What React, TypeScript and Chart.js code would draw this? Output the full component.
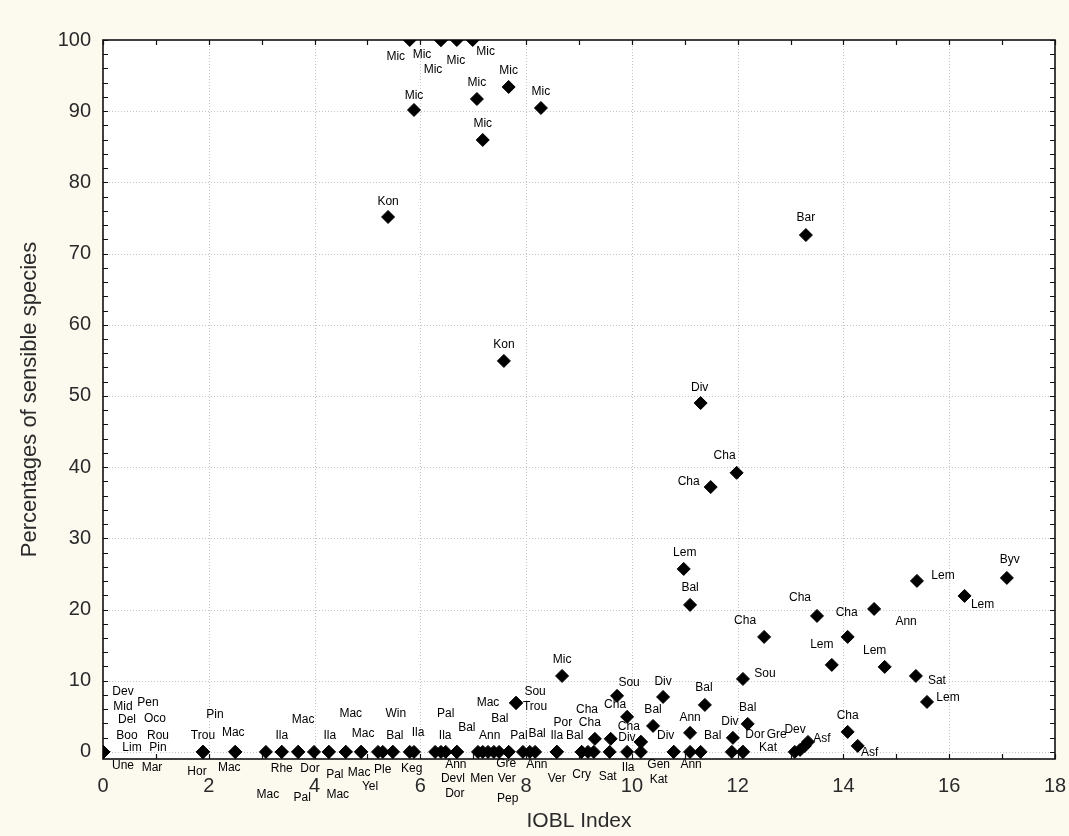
import React, { useEffect, useRef } from 'react';
import { Chart, registerables } from 'chart.js';

Chart.register(...registerables);

// ---- data ----
const speciesLabels: string[] = [
  'Dev', 'Mid', 'Del', 'Boo', 'Lim', 'Une', 'Pen', 'Oco', 'Rou', 'Pin', 'Mar',
  'Trou', 'Pin', 'Hor', 'Mac', 'Mac', 'Mac', 'Ila', 'Rhe', 'Mac', 'Pal', 'Dor',
  'Ila', 'Pal', 'Mac', 'Mac', 'Mac', 'Mac', 'Yel', 'Ple', 'Bal', 'Win', 'Keg', 'Ila',
  'Ila', 'Devl', 'Pal', 'Ann', 'Dor', 'Bal', 'Men', 'Ann', 'Mac', 'Bal', 'Gre', 'Ver', 'Pep',
  'Sou', 'Trou', 'Pal', 'Ann', 'Bal', 'Ila', 'Por', 'Ver', 'Mic', 'Bal', 'Cry', 'Cha', '',
  'Cha', 'Sat', '', 'Sou', 'Cha', 'Ila', 'Cha', 'Div', '', 'Bal', 'Div', 'Div', 'Gen', 'Kat',
  'Ann', 'Ann', 'Bal', 'Bal', '', 'Div', 'Dor', 'Kat', 'Bal', 'Gre', 'Dev', '', 'Asf',
  'Cha', 'Asf', 'Sou', 'Sat', 'Lem', 'Lem', 'Bal', 'Div', 'Cha', 'Cha', 'Cha', 'Cha', 'Cha',
  'Ann', 'Lem', 'Lem', 'Lem', 'Lem', 'Byv', 'Bar', 'Kon', 'Kon',
  'Mic', 'Mic', 'Mic', 'Mic', 'Mic', 'Mic', 'Mic', 'Mic', 'Mic', 'Mic',
];

const ioblIndex: number[] = [
  0, 0, 0, 0, 0, 0, 0, 0, 0, 0, 0,
  1.89, 1.89, 1.89, 2.5, 2.5, 3.08, 3.38, 3.38, 3.69, 3.69, 3.99,
  4.27, 4.27, 4.59, 4.59, 4.88, 4.88, 5.2, 5.29, 5.48, 5.48, 5.8, 5.88,
  6.28, 6.39, 6.48, 6.69, 6.69, 6.69, 7.09, 7.18, 7.28, 7.39, 7.49, 7.67, 7.67,
  7.81, 7.81, 7.94, 8.07, 8.17, 8.58, 8.58, 8.58, 8.68, 9.05, 9.05, 9.17, 9.28,
  9.3, 9.58, 9.6, 9.72, 9.91, 9.91, 10.17, 10.17, 10.17, 10.4, 10.59, 10.79, 10.79, 10.79,
  11.1, 11.1, 11.3, 11.38, 11.89, 11.91, 12.1, 12.1, 12.19, 13.08, 13.18, 13.27, 13.33,
  14.08, 14.27, 12.1, 15.37, 15.58, 10.98, 11.1, 11.3, 11.98, 11.49, 12.5, 13.5, 14.08,
  14.58, 13.78, 14.78, 15.39, 16.29, 17.09, 13.29, 5.39, 7.58,
  5.88, 7.07, 7.67, 8.28, 7.18, 5.8, 6.39, 6.39, 6.69, 6.99,
];

const sensiblePct: number[] = [
  0, 0, 0, 0, 0, 0, 0, 0, 0, 0, 0,
  0, 0, 0, 0, 0, 0, 0, 0, 0, 0, 0,
  0, 0, 0, 0, 0, 0, 0, 0, 0, 0, 0, 0,
  0, 0, 0, 0, 0, 0, 0, 0, 0, 0, 0, 0, 0,
  6.88, 6.88, 0, 0, 0, 0, 0, 0, 10.67, 0, 0, 0, 0,
  1.83, 0, 1.83, 7.87, 4.92, 0, 1.4, 1.4, 0, 3.65, 7.72, 0, 0, 0,
  0, 2.67, 0, 6.6, 0, 1.97, 0, 0, 3.93, 0, 0.28, 0.84, 1.4,
  2.81, 0.84, 10.25, 10.67, 7.02, 25.7, 20.65, 49.0, 39.2, 37.2, 16.15, 19.1, 16.15,
  20.08, 12.22, 11.94, 24.02, 21.91, 24.44, 72.6, 75.14, 54.92,
  90.17, 91.71, 93.4, 90.45, 85.96, 100, 100, 100, 100, 100,
];

// label placement relative to each marker (pixels)
const labelDx: number[] = [
  20, 20, 24, 24, 29, 20, 45, 52, 55, 55, 49,
  0, 12, -6, -2, -6, 2, 0, 0, 5, 4, -4,
  1, 6, 5, -8, 2, -2, -8, 0, 2, 3, 2, 4,
  10, 12, 0, -1, -2, 10, 4, 7, 0, 6, 7, -2, -1,
  19, 19, -4, 7, 2, 0, 6, 0, 0, -7, 0, -1, 0,
  -5, -2, 0, 12, -12, 1, -12, -14, 0, 0, 0, -8, -15, -15,
  1, 0, 12, -1, 0, -3, 12, 25, 0, -18, -5, 0, 14,
  0, 12, 22, 21, 21, 1, 0, -1, -12, -22, -19, -17, -1,
  32, -10, -10, 26, 18, 3, 0, 0, 0,
  0, 0, 0, 0, 0, -14, -19, -8, -1, 13,
];
const labelDy: number[] = [
  -60, -45, -32, -16, -4, 14, -49, -33, -16, -4, 16,
  -16, -37, 20, -19, 16, 43, -16, 17, -32, 46, 17,
  -16, 23, -38, 43, -18, 21, 35, 18, -16, -38, 17, -19,
  -16, 27, -38, 13, 42, -24, 27, -16, -49, -33, 12, 27, 47,
  -11, 4, -16, 13, -18, -16, -29, 27, -16, -16, 23, -42, 0,
  -16, 25, 0, -13, -12, 16, -15, -4, 0, -16, -15, -16, 13, 28,
  13, -15, -16, -17, 0, -16, -17, -4, -16, -17, -20, 0, -3,
  -16, 7, -5, 5, -4, -16, -17, -15, -17, -5, -16, -18, -24,
  13, -20, -16, -5, 9, -18, -17, -15, -16,
  -14, -16, -16, -16, -16, 17, 15, 30, 21, 12,
];

const xTickValues: number[] = [0, 2, 4, 6, 8, 10, 12, 14, 16, 18];
const yTickValues: number[] = [0, 10, 20, 30, 40, 50, 60, 70, 80, 90, 100];
const xTitle = 'IOBL Index';
const yTitle = 'Percentages of sensible species';

const FONT = '"Liberation Sans", Arial, sans-serif';

const framePlugin = {
  id: 'framePlugin',
  beforeDraw(chart: any) {
    const { ctx, chartArea: a } = chart;
    ctx.save();
    ctx.fillStyle = '#ffffff';
    ctx.fillRect(a.left, a.top, a.right - a.left, a.bottom - a.top);
    ctx.restore();
  },
  beforeDatasetsDraw(chart: any) {
    const { ctx, chartArea: a } = chart;
    const xs = chart.scales.x;
    const ys = chart.scales.y;
    ctx.save();
    // dotted grid
    ctx.strokeStyle = '#c4c4c4';
    ctx.lineWidth = 1;
    ctx.setLineDash([1, 2]);
    xTickValues.forEach((v) => {
      const px = Math.round(xs.getPixelForValue(v)) + 0.5;
      if (px <= a.left + 1 || px >= a.right - 1) return;
      ctx.beginPath();
      ctx.moveTo(px, a.top);
      ctx.lineTo(px, a.bottom);
      ctx.stroke();
    });
    yTickValues.forEach((v) => {
      const py = Math.round(ys.getPixelForValue(v)) + 0.5;
      if (py <= a.top + 1 || py >= a.bottom - 1) return;
      ctx.beginPath();
      ctx.moveTo(a.left, py);
      ctx.lineTo(a.right, py);
      ctx.stroke();
    });
    ctx.setLineDash([]);
    // frame
    ctx.strokeStyle = '#111';
    ctx.lineWidth = 1.6;
    ctx.strokeRect(a.left, a.top, a.right - a.left, a.bottom - a.top);
    // inward tick marks
    ctx.lineWidth = 1.2;
    const tl = 5;
    for (let v = 0; v <= 18; v += 1) {
      const px = Math.round(xs.getPixelForValue(v)) + 0.5;
      ctx.beginPath();
      ctx.moveTo(px, a.bottom);
      ctx.lineTo(px, a.bottom - tl);
      ctx.moveTo(px, a.top);
      ctx.lineTo(px, a.top + tl);
      ctx.stroke();
    }
    for (let v = 0; v <= 100; v += 2) {
      const py = Math.round(ys.getPixelForValue(v)) + 0.5;
      ctx.beginPath();
      ctx.moveTo(a.left, py);
      ctx.lineTo(a.left + tl, py);
      ctx.moveTo(a.right, py);
      ctx.lineTo(a.right - tl, py);
      ctx.stroke();
    }
    ctx.restore();
  },
  afterDatasetsDraw(chart: any) {
    const { ctx } = chart;
    const meta = chart.getDatasetMeta(0);
    ctx.save();
    ctx.font = '12px ' + FONT;
    ctx.fillStyle = '#000';
    ctx.textAlign = 'center';
    ctx.textBaseline = 'middle';
    meta.data.forEach((el: any, i: number) => {
      const t = speciesLabels[i];
      if (!t) return;
      ctx.fillText(t, el.x + labelDx[i], el.y + labelDy[i]);
    });
    ctx.restore();
  },
};

export default function App() {
  const ref = useRef<HTMLCanvasElement | null>(null);
  useEffect(() => {
    document.body.style.margin = '0';
    const canvas = ref.current;
    if (!canvas) return;
    const points = ioblIndex.map((x, i) => ({ x, y: sensiblePct[i] }));
    const chart = new Chart(canvas, {
      type: 'scatter',
      data: {
        datasets: [
          {
            data: points,
            pointStyle: 'rectRot',
            pointRadius: 6.5,
            pointHoverRadius: 6.5,
            backgroundColor: '#000',
            borderColor: '#000',
            borderWidth: 1,
            clip: 0,
          } as any,
        ],
      },
      options: {
        responsive: false,
        animation: false,
        events: [],
        layout: { padding: { left: 0, top: 40, right: 14, bottom: 0 } },
        plugins: { legend: { display: false }, tooltip: { enabled: false } },
        scales: {
          x: {
            type: 'linear',
            min: 0,
            max: 18,
            grid: { display: false, drawTicks: false },
            border: { display: false },
            afterBuildTicks: (s: any) => {
              s.ticks = xTickValues.map((v) => ({ value: v }));
            },
            afterFit: (s: any) => {
              s.height = 77;
              s.paddingLeft = 0;
              s.paddingRight = 0;
            },
            ticks: {
              font: { family: FONT, size: 20 },
              color: '#2a2a2a',
              padding: 15,
              maxRotation: 0,
              autoSkip: false,
            },
            title: {
              display: true,
              text: xTitle,
              font: { family: FONT, size: 21 },
              color: '#2a2a2a',
              padding: { top: 0, bottom: 2 },
            },
          },
          y: {
            type: 'linear',
            min: -1,
            max: 100,
            grid: { display: false, drawTicks: false },
            border: { display: false },
            afterBuildTicks: (s: any) => {
              s.ticks = yTickValues.map((v) => ({ value: v }));
            },
            afterFit: (s: any) => {
              s.width = 103;
              s.paddingTop = 0;
              s.paddingBottom = 0;
            },
            ticks: {
              font: { family: FONT, size: 20 },
              color: '#2a2a2a',
              padding: 12,
              autoSkip: false,
            },
            title: {
              display: true,
              text: yTitle,
              font: { family: FONT, size: 22 },
              color: '#2a2a2a',
              padding: { top: 17, bottom: 0 },
            },
          },
        },
      },
      plugins: [framePlugin],
    });
    return () => chart.destroy();
  }, []);
  return (
    <div style={{ width: 1069, height: 836, background: '#fcf9ef' }}>
      <canvas ref={ref} width={1069} height={836} style={{ display: 'block' }} />
    </div>
  );
}
